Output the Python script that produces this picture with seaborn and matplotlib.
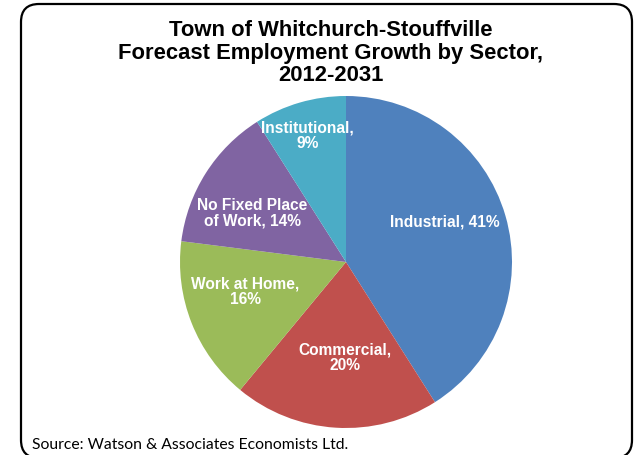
import numpy as np
import matplotlib
matplotlib.use("Agg")
import matplotlib.pyplot as plt
from matplotlib.patches import FancyBboxPatch
import seaborn as sns

# Forecast employment growth shares, 2012-2031
sectors = ["Industrial", "Commercial", "Work at Home", "No Fixed Place of Work", "Institutional"]
shares = [41, 20, 16, 14, 9]
label_text = ["Industrial, 41%", "Commercial,\n20%", "Work at Home,\n16%",
              "No Fixed Place\nof Work, 14%", "Institutional,\n9%"]
colors = ["#4F81BD", "#C0504D", "#9BBB59", "#8064A2", "#4BACC6"]

title = "Town of Whitchurch-Stouffville\nForecast Employment Growth by Sector,\n2012-2031"
source = "Source: Watson & Associates Economists Ltd."

sns.set_theme(style="white")
plt.rcParams["font.family"] = ["Liberation Sans", "DejaVu Sans"]

W, H = 635, 456
fig = plt.figure(figsize=(W / 100, H / 100), dpi=100)
fig.patch.set_facecolor("white")

# background axes in pixel units, holding the rounded chart frame
bg = fig.add_axes([0, 0, 1, 1], zorder=0)
bg.set_xlim(0, W)
bg.set_ylim(H, 0)
bg.set_axis_off()
bg.add_patch(FancyBboxPatch((21, 5), 611, 454,
                            boxstyle="round,pad=0,rounding_size=18",
                            facecolor="white", edgecolor="black",
                            linewidth=1.6, clip_on=False))

# pie axes: centre (346, 263) px, radius 166 px
cx, cy, R = 346, 263, 166
ax = fig.add_axes([(cx - R) / W, (H - cy - R) / H, 2 * R / W, 2 * R / H], zorder=1)
ax.set_axis_off()
wedges, _ = ax.pie(shares, colors=sns.color_palette(colors), startangle=90,
                   counterclock=False, radius=1,
                   wedgeprops=dict(linewidth=0, edgecolor="none"))
ax.set_xlim(-1, 1)
ax.set_ylim(-1, 1)
ax.set_aspect("equal")

# label placement: radial fraction and angular nudge per slice
label_r = [0.645, 0.57, 0.63, 0.64, 0.80]
label_shift = [6.3, 3.0, -5.6, 4.4, 0.5]
for w, txt, r, dth in zip(wedges, label_text, label_r, label_shift):
    mid = np.deg2rad((w.theta1 + w.theta2) / 2 + dth)
    ax.text(r * np.cos(mid), r * np.sin(mid), txt, ha="center", va="center",
            color="white", fontsize=11.2, fontweight="bold", linespacing=1.1)

fig.text(331 / W, 1 - 53 / H, title, ha="center", va="center",
         fontsize=15.8, fontweight="bold", linespacing=1.1, color="black",
         zorder=2)
fig.text(32 / W, 1 - 445 / H, source, ha="left", va="center",
         fontsize=11.3, family=["Lato", "DejaVu Sans"], color="black", zorder=2)

fig.savefig("out.png", dpi=100, facecolor="white")
